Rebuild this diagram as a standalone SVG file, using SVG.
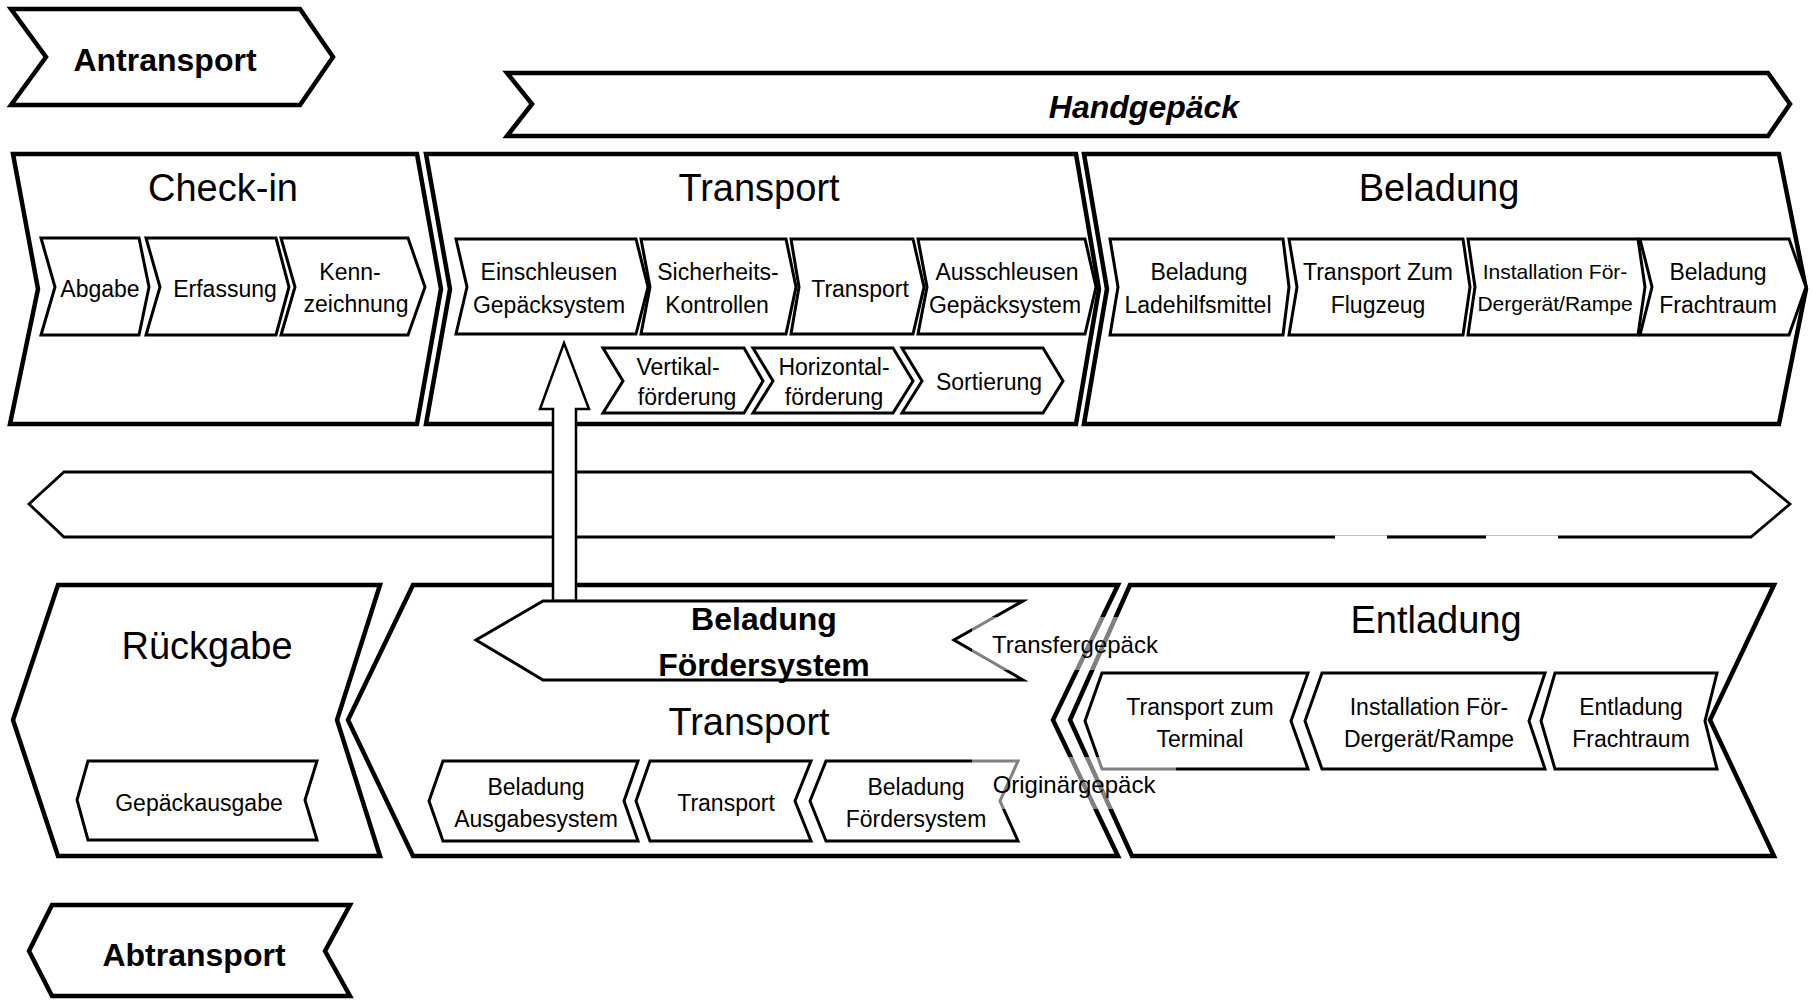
<svg xmlns="http://www.w3.org/2000/svg" width="1812" height="1000" viewBox="0 0 1812 1000">
<style>
.box{fill:#fff;stroke:#000;stroke-width:4.5;stroke-linejoin:miter}
.sub{fill:#fff;stroke:#000;stroke-width:3;stroke-linejoin:miter}
.band{fill:#fff;stroke:#000;stroke-width:2.8}
.t{font-family:"Liberation Sans",Arial,sans-serif;text-anchor:middle;fill:#000}
.title{font-size:38px}
.lbl{font-size:23px}
.sm{font-size:21px}
.b{font-weight:bold;font-size:32px}
.veil{fill:#fff;fill-opacity:0.5}
</style>
<rect width="1812" height="1000" fill="#fff"/>

<g id="antransport">
<polygon class="box" points="11,9 300,9 333,57 300,105 11,105 46,57"/>
<text class="t b" x="165" y="71">Antransport</text>
</g>

<g id="handgepaeck">
<polygon class="box" points="507,73 1768,73 1790,104 1768,136 507,136 532,104"/>
<text class="t b" x="1144" y="118" font-style="italic">Handgepäck</text>
</g>

<g id="checkin">
<polygon class="box" points="13,154 417,154 441,289 417,424 10,424 38,289"/>
<text class="t title" x="223" y="201">Check-in</text>
<g id="abgabe"><polygon class="sub" points="41,238 139,238 149,287 139,335 41,335 55,287"/><text class="t lbl" x="100" y="297">Abgabe</text></g>
<g id="erfassung"><polygon class="sub" points="146,238 276,238 289,287 276,335 146,335 160,287"/><text class="t lbl" x="225" y="297">Erfassung</text></g>
<g id="kennzeichnung"><polygon class="sub" points="281,238 408,238 425,287 408,335 281,335 295,287"/><text class="t lbl" x="350" y="280">Kenn-</text><text class="t lbl" x="356" y="312">zeichnung</text></g>
</g>

<g id="transport-top">
<polygon class="box" points="426,154 1076,154 1099,289 1076,424 426,424 450,289"/>
<text class="t title" x="759" y="201">Transport</text>
<g id="einschleusen"><polygon class="sub" points="456,239 636,239 648,287 636,334 456,334 467,287"/><text class="t lbl" x="549" y="280">Einschleusen</text><text class="t lbl" x="549" y="313">Gepäcksystem</text></g>
<g id="sicherheit"><polygon class="sub" points="641,239 786,239 796,287 786,334 641,334 650,287"/><text class="t lbl" x="718" y="280">Sicherheits-</text><text class="t lbl" x="717" y="313">Kontrollen</text></g>
<g id="transport-sub"><polygon class="sub" points="791,239 913,239 924,287 913,334 791,334 799,287"/><text class="t lbl" x="860" y="297">Transport</text></g>
<g id="ausschleusen"><polygon class="sub" points="918,239 1085,239 1096,287 1085,334 918,334 927,287"/><text class="t lbl" x="1007" y="280">Ausschleusen</text><text class="t lbl" x="1005" y="313">Gepäcksystem</text></g>
<g id="vertikal"><polygon class="sub" points="603,348 744,348 763,381 744,413 603,413 623,381"/><text class="t lbl" x="678" y="375">Vertikal-</text><text class="t lbl" x="687" y="405">förderung</text></g>
<g id="horizontal"><polygon class="sub" points="753,348 893,348 913,381 893,413 753,413 773,381"/><text class="t lbl" x="834" y="375">Horizontal-</text><text class="t lbl" x="834" y="405">förderung</text></g>
<g id="sortierung"><polygon class="sub" points="902,348 1043,348 1063,381 1043,413 902,413 922,381"/><text class="t lbl" x="989" y="390">Sortierung</text></g>
</g>

<g id="beladung">
<polygon class="box" points="1084,154 1779,154 1806,289 1779,424 1084,424 1107,289"/>
<text class="t title" x="1439" y="201">Beladung</text>
<g id="ladehilfsmittel"><polygon class="sub" points="1110,239 1283,239 1289,287 1283,335 1110,335 1118,287"/><text class="t lbl" x="1199" y="280">Beladung</text><text class="t lbl" x="1198" y="313">Ladehilfsmittel</text></g>
<g id="flugzeug"><polygon class="sub" points="1289,239 1463,239 1470,287 1463,335 1289,335 1297,287"/><text class="t lbl" x="1378" y="280">Transport Zum</text><text class="t lbl" x="1378" y="313">Flugzeug</text></g>
<g id="installation-top"><polygon class="sub" points="1468,239 1638,239 1645,287 1638,335 1468,335 1475,287"/><text class="t sm" x="1555" y="279">Installation För-</text><text class="t sm" x="1555" y="311">Dergerät/Rampe</text></g>
<g id="frachtraum-top"><polygon class="sub" points="1640,239 1789,239 1806,287 1789,335 1640,335 1652,287"/><text class="t lbl" x="1718" y="280">Beladung</text><text class="t lbl" x="1718" y="313">Frachtraum</text></g>
</g>

<g id="band">
<polygon class="band" points="64,472 1751,472 1790,504 1751,537 64,537 29,504"/>
<line x1="1335" y1="537.5" x2="1558" y2="537.5" stroke="#fff" stroke-width="4"/>
<line x1="1387" y1="537" x2="1486" y2="537" stroke="#000" stroke-width="3"/>
</g>

<g id="rueckgabe">
<polygon class="box" points="58,585 380,585 337,720 380,856 58,856 13,720"/>
<text class="t title" x="207" y="659">Rückgabe</text>
<g id="gepaeckausgabe"><polygon class="sub" points="88,761 317,761 305,800 317,840 88,840 77,800"/><text class="t lbl" x="199" y="811">Gepäckausgabe</text></g>
</g>

<g id="transport-bottom">
<polygon class="box" points="413,585 1118,585 1053,720 1118,856 413,856 348,720"/>
<text class="t title" x="749" y="735">Transport</text>
<g id="ausgabesystem"><polygon class="sub" points="443,761 638,761 624,801 638,841 443,841 429,801"/><text class="t lbl" x="536" y="795">Beladung</text><text class="t lbl" x="536" y="827">Ausgabesystem</text></g>
<g id="transport-sub2"><polygon class="sub" points="650,761 811,761 795,801 811,841 650,841 636,801"/><text class="t lbl" x="726" y="811">Transport</text></g>
<g id="foerdersystem-sub"><polygon class="sub" points="826,761 1018,761 1000,801 1018,841 826,841 810,801"/><text class="t lbl" x="916" y="795">Beladung</text><text class="t lbl" x="916" y="827">Fördersystem</text></g>
</g>

<g id="entladung">
<polygon class="box" points="1130,585 1774,585 1710,720 1774,856 1132,856 1070,720"/>
<text class="t title" x="1436" y="633">Entladung</text>
<g id="terminal"><polygon class="sub" points="1102,673 1308,673 1291,721 1308,769 1102,769 1085,721"/><text class="t lbl" x="1200" y="715">Transport zum</text><text class="t lbl" x="1200" y="747">Terminal</text></g>
<g id="installation-bottom"><polygon class="sub" points="1322,673 1545,673 1529,721 1545,769 1322,769 1305,721"/><text class="t lbl" x="1429" y="715">Installation För-</text><text class="t lbl" x="1429" y="747">Dergerät/Rampe</text></g>
<g id="frachtraum-bottom"><polygon class="sub" points="1555,673 1717,673 1705,721 1717,769 1555,769 1541,721"/><text class="t lbl" x="1631" y="715">Entladung</text><text class="t lbl" x="1631" y="747">Frachtraum</text></g>
</g>

<g id="connectors">
<polygon fill="#fff" stroke="#000" stroke-width="2.5" stroke-linejoin="miter" points="564,343 589,409 576,409 576,601 553,601 553,409 540,409"/>
</g>

<g id="beladung-foerdersystem">
<polygon fill="#fff" stroke="#000" stroke-width="3" points="543,601 1023,601 954,640 1023,680 543,680 476,640"/>
<text class="t b" x="764" y="630">Beladung</text>
<text class="t b" x="764" y="676">Fördersystem</text>
</g>

<g id="transfergepaeck">
<rect class="veil" x="972" y="617" width="204" height="53"/>
<text class="t" x="1075" y="653" font-size="24">Transfergepäck</text>
</g>

<g id="originaergepaeck">
<rect class="veil" x="972" y="757" width="204" height="52"/>
<text class="t" x="1074" y="793" font-size="24">Originärgepäck</text>
</g>

<g id="abtransport">
<polygon class="box" points="52,905 350,905 325,951 350,996 52,996 29,951"/>
<text class="t b" x="194" y="966">Abtransport</text>
</g>
</svg>
